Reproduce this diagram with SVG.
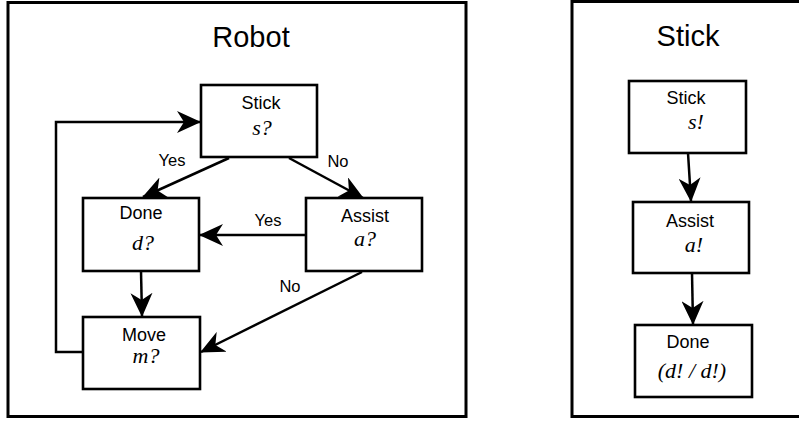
<svg xmlns="http://www.w3.org/2000/svg" width="799" height="424" viewBox="0 0 799 424">
  <style>
    .frame { fill: #fff; stroke: #000; stroke-width: 3; }
    .box { fill: #fff; stroke: #000; stroke-width: 2.6; }
    .edge { fill: none; stroke: #000; stroke-width: 2.5; marker-end: url(#ah); }
    .title { font-family: "Liberation Sans", Arial, sans-serif; font-size: 29px; text-anchor: middle; fill: #000; }
    .name { font-family: "Liberation Sans", Arial, sans-serif; font-size: 18px; text-anchor: middle; fill: #000; }
    .var { font-family: "Liberation Serif", "Times New Roman", serif; font-style: italic; font-size: 22px; text-anchor: middle; fill: #000; }
    .lbl { font-family: "Liberation Sans", Arial, sans-serif; font-size: 16.5px; text-anchor: middle; fill: #000; }
  </style>
  <defs>
    <!-- swept-back arrowhead shared by every connector -->
    <marker id="ah" viewBox="0 0 24 22" refX="23" refY="11" markerWidth="24" markerHeight="22" markerUnits="userSpaceOnUse" orient="auto">
      <path d="M0,0 L24,11 L0,22 L7,11 Z" fill="#000"/>
    </marker>
  </defs>

  <rect width="799" height="424" fill="#fff"/>

  <!-- Robot panel -->
  <g id="robot-frame">
    <rect class="frame" x="8" y="2.5" width="458" height="414"/>
    <text class="title" x="251" y="47">Robot</text>
  </g>

  <g id="robot-stick">
    <rect class="box" x="201" y="85" width="116" height="72"/>
    <text class="name" x="261" y="109">Stick</text>
    <text class="var" x="262" y="135">s?</text>
  </g>
  <g id="robot-done">
    <rect class="box" x="83" y="198" width="116" height="73"/>
    <text class="name" x="141" y="219">Done</text>
    <text class="var" x="143" y="250">d?</text>
  </g>
  <g id="robot-assist">
    <rect class="box" x="306" y="198" width="116" height="73"/>
    <text class="name" x="365" y="222">Assist</text>
    <text class="var" x="365" y="246">a?</text>
  </g>
  <g id="robot-move">
    <rect class="box" x="83" y="317" width="117" height="72"/>
    <text class="name" x="144" y="341">Move</text>
    <text class="var" x="146" y="363">m?</text>
  </g>

  <g id="robot-edges">
    <polyline class="edge" points="83,352 56,352 56,122 200,122"/>
    <line class="edge" x1="229" y1="158" x2="143" y2="197"/>
    <line class="edge" x1="289" y1="158" x2="363" y2="198"/>
    <line class="edge" x1="306" y1="235" x2="200" y2="235"/>
    <line class="edge" x1="141" y1="271" x2="142" y2="316"/>
    <line class="edge" x1="362" y1="272" x2="201" y2="352"/>
    <text class="lbl" x="172" y="166">Yes</text>
    <text class="lbl" x="338" y="167">No</text>
    <text class="lbl" x="268" y="226">Yes</text>
    <text class="lbl" x="290" y="292">No</text>
  </g>

  <!-- Stick panel -->
  <g id="stick-frame">
    <rect class="frame" x="572" y="1.5" width="240" height="415"/>
    <text class="title" x="688" y="46">Stick</text>
  </g>

  <g id="stick-stick">
    <rect class="box" x="629" y="81" width="117" height="72"/>
    <text class="name" x="686" y="104">Stick</text>
    <text class="var" x="696" y="129">s!</text>
  </g>
  <g id="stick-assist">
    <rect class="box" x="633" y="202" width="116" height="71"/>
    <text class="name" x="690" y="227">Assist</text>
    <text class="var" x="694" y="252">a!</text>
  </g>
  <g id="stick-done">
    <rect class="box" x="635" y="325" width="117" height="72"/>
    <text class="name" x="688" y="348">Done</text>
    <text class="var" x="692" y="378">(d! / d!)</text>
  </g>

  <g id="stick-edges">
    <line class="edge" x1="688" y1="153" x2="691" y2="201"/>
    <line class="edge" x1="692" y1="273" x2="693" y2="324"/>
  </g>
</svg>
